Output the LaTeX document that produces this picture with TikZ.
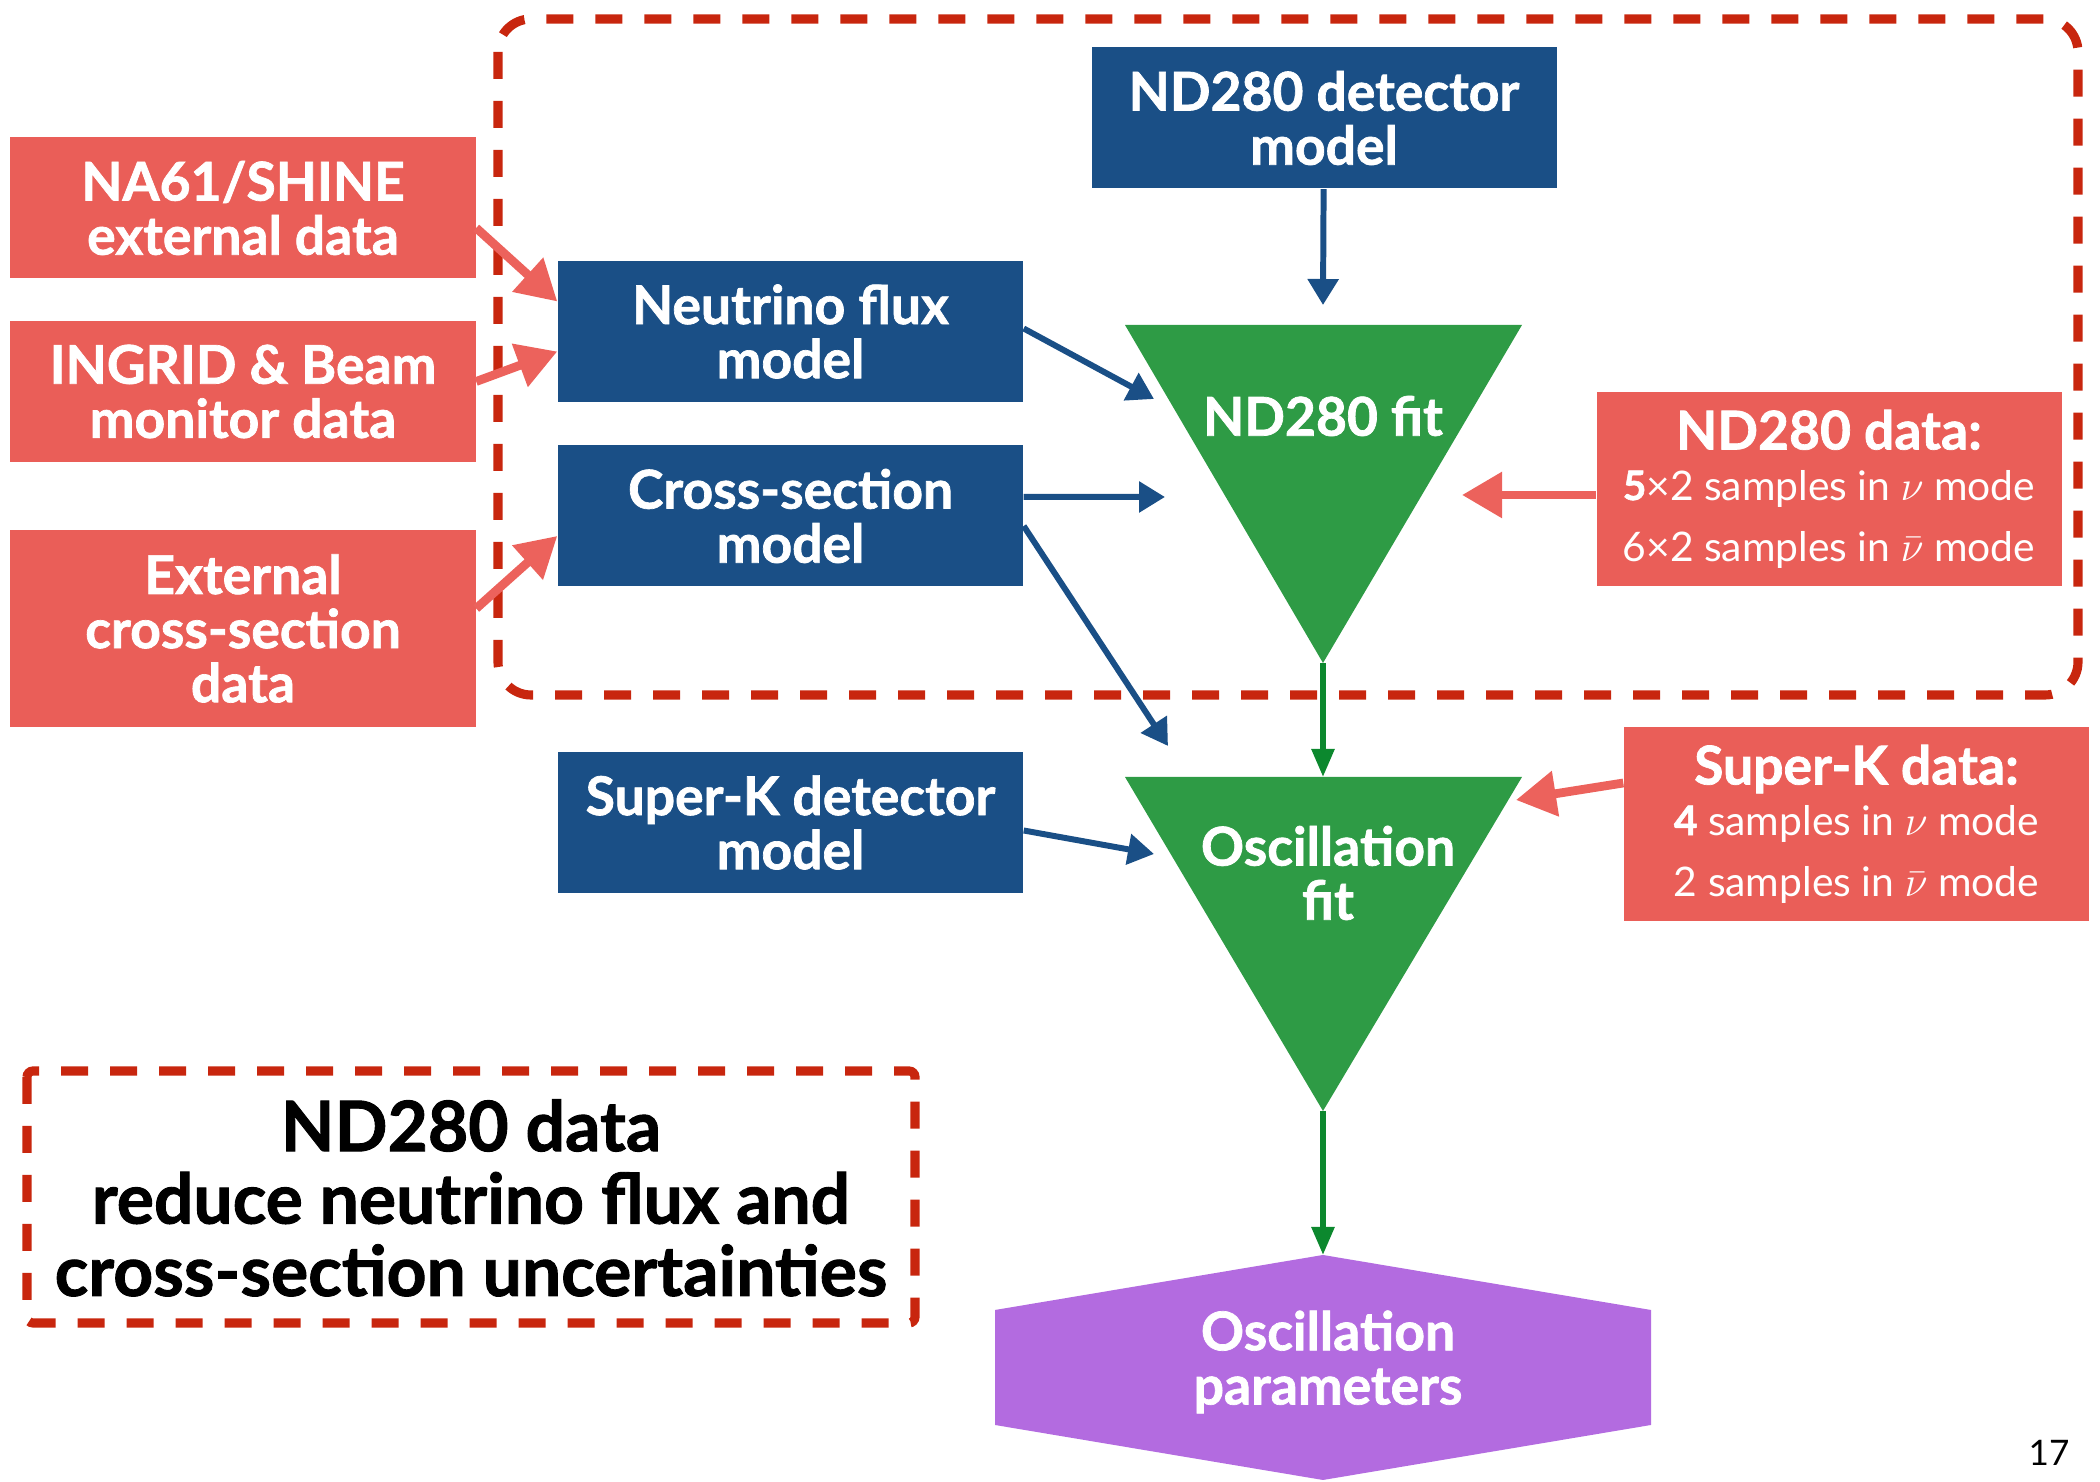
\documentclass[tikz,border=0pt]{standalone}
\usepackage{amsmath}
\usepackage{fontspec}
\setmainfont{Lato}[BoldFeatures={FakeBold=1.3}]
\usepackage{tikz}
\usetikzlibrary{arrows,arrows.meta}

\definecolor{modelblue}{RGB}{26,79,134}
\definecolor{datared}{RGB}{234,94,88}
\definecolor{arrowred}{RGB}{236,98,92}
\definecolor{fitgreen}{RGB}{46,155,69}
\definecolor{arrowgreen}{RGB}{12,136,46}
\definecolor{dashred}{RGB}{200,38,14}
\definecolor{parpurple}{RGB}{179,107,224}

\newcommand{\blockfont}{\fontsize{15.2}{15.4}\selectfont\bfseries}
\newcommand{\samplefont}{\fontsize{11.6}{14}\selectfont\mdseries}

\begin{document}
\begin{tikzpicture}[
box/.style={minimum width=4.65cm,minimum height=1.41cm,inner sep=0pt,align=center,text=white,font=\blockfont},
model/.style={box,fill=modelblue},
extdata/.style={box,fill=datared},
fitlabel/.style={text=white,font=\blockfont,align=center},
flow/.style={-{Triangle[length=0.26cm,width=0.3cm]},line width=1.7pt,draw=modelblue},
feed/.style={-{Triangle[length=0.4cm,width=0.44cm]},line width=2.5pt,draw=arrowred},
pass/.style={-{Triangle[length=0.28cm,width=0.22cm]},line width=1.6pt,draw=arrowgreen},
dashwall/.style={draw=dashred,line width=2.6pt,dash pattern=on 0.27cm off 0.22cm}
]
\useasboundingbox (0,0) rectangle (21,-14.82);

% ND280 region
\draw[dashwall,rounded corners=0.33cm] (4.98,-0.19) rectangle (20.78,-6.95);

% model boxes
\node[model] (det280) at (13.24,-1.18) {ND280 detector\\model};
\node[model] (flux) at (7.905,-3.315) {Neutrino flux\\model};
\node[model] (xsec) at (7.905,-5.16) {Cross-section\\model};
\node[model] (skdet) at (7.905,-8.225) {Super-K detector\\model};

% external data
\node[extdata] (na61) at (2.43,-2.08) {NA61/SHINE\\external data};
\node[extdata] (ingrid) at (2.43,-3.915) {INGRID \& Beam\\monitor data};
\node[extdata,minimum height=1.97cm] (extxsec) at (2.43,-6.285) {External\\cross-section\\data};

% fit data
\node[extdata,minimum height=1.94cm] (ndata) at (18.29,-4.89)
  {ND280 data:\\[-1pt]{\samplefont\textbf{5}×2 samples in $\nu$ mode}\\[2pt]{\samplefont 6×2 samples in $\bar{\nu}$ mode}};
\node[extdata,minimum height=1.94cm] (skdata) at (18.565,-8.24)
  {Super-K data:\\[-1pt]{\samplefont\textbf{4} samples in $\nu$ mode}\\[2pt]{\samplefont 2 samples in $\bar{\nu}$ mode}};

% fits
\coordinate (fitB) at (13.23,-6.63);
\coordinate (oscT) at (13.23,-7.77);
\coordinate (oscB) at (13.23,-11.11);
\fill[fitgreen] (11.25,-3.25) -- (15.22,-3.25) -- (fitB) -- cycle;
\fill[fitgreen] (11.25,-7.77) -- (15.22,-7.77) -- (oscB) -- cycle;
\node[fitlabel] (fit280) at (13.23,-4.16) {ND280 fit};
\node[fitlabel] (oscfit) at (13.28,-8.73) {Oscillation\\fit};

% parameters
\coordinate (parT) at (13.23,-12.55);
\fill[parpurple] (9.95,-13.10) -- (parT) -- (16.51,-13.10) -- (16.51,-14.25)
  -- (13.23,-14.80) -- (9.95,-14.25) -- cycle;
\node[fitlabel] (params) at (13.28,-13.62) {Oscillation\\parameters};

% arrow tips
\coordinate (detin) at (13.23,-3.05);
\coordinate (fluxin) at (11.54,-3.99);
\coordinate (xsecin) at (11.65,-4.97);
\coordinate (xoscin) at (11.68,-7.46);
\coordinate (skin) at (11.54,-8.54);
\coordinate (ndin) at (14.62,-4.95);
\coordinate (skdin) at (15.16,-8.00);

\draw[flow] (det280) -- (detin);
\draw[flow] ([yshift=0.03cm]flux.east) -- (fluxin);
\draw[flow] ([yshift=0.19cm]xsec.east) -- (xsecin);
\draw[flow] ([yshift=-0.1cm]xsec.east) -- (xoscin);
\draw[flow] ([yshift=-0.08cm]skdet.east) -- (skin);

\draw[feed] ([yshift=-0.2cm]na61.east) -- ([yshift=0.3cm]flux.west);
\draw[feed] ([yshift=0.1cm]ingrid.east) -- ([yshift=-0.2cm]flux.west);
\draw[feed] ([yshift=0.2cm]extxsec.east) -- ([yshift=-0.2cm]xsec.west);
\draw[feed] ([yshift=-0.06cm]ndata.west) -- (ndin);
\draw[feed] ([yshift=0.41cm]skdata.west) -- (skdin);

\draw[pass] (fitB) -- (oscT);
\draw[pass] (oscB) -- (parT);

% summary
\draw[dashwall,rounded corners=0.06cm] (0.27,-10.71) rectangle (9.15,-13.23);
\node[font=\fontsize{19.8}{20.6}\selectfont\bfseries,align=center] (summary) at (4.71,-11.98)
  {ND280 data\\reduce neutrino flux and\\cross-section uncertainties};

\node[font=\fontsize{10}{12}\selectfont] (pagenum) at (20.49,-14.53) {17};
\end{tikzpicture}
\end{document}
